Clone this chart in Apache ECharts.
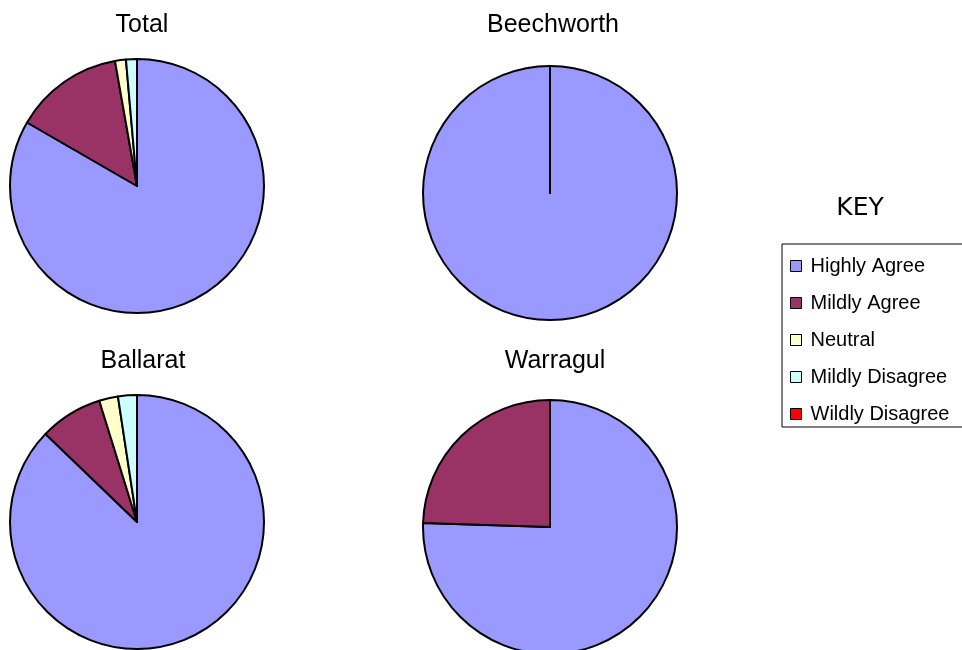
<!DOCTYPE html>
<html>
<head>
<meta charset="utf-8">
<script src="https://cdn.jsdelivr.net/npm/echarts@6/dist/echarts.min.js"></script>
<style>
  html, body { margin: 0; padding: 0; background: #fff; }
  #main { width: 962px; height: 650px; }
</style>
</head>
<body>
<div id="main"></div>
<script>
// categories of the answers
const categories = ['Highly Agree', 'Mildly Agree', 'Neutral', 'Mildly Disagree', 'Wildly Disagree'];
const colors = ['#9999FF', '#993366', '#FFFFCC', '#CCFFFF', '#FF0000'];

// one list per location (share of answers)
const totalValues = [60, 10, 1, 1, 0];
const beechworthValues = [100, 0, 0, 0, 0];
const ballaratValues = [87.2, 8.0, 2.4, 2.4, 0];
const warragulValues = [75.5, 24.5, 0, 0, 0];

const chart = echarts.init(document.getElementById('main'), null, { renderer: 'canvas' });

// build one pie series
function makePie(name, values, center) {
  return {
    name: name,
    type: 'pie',
    center: center,
    radius: 127,
    startAngle: 90,
    clockwise: true,
    silent: true,
    animation: false,
    label: { show: false },
    labelLine: { show: false },
    itemStyle: { borderColor: '#000', borderWidth: 2 },
    data: categories.map((c, i) => ({ name: c, value: values[i] }))
  };
}

const titleFont = { fontFamily: 'Liberation Sans', fontSize: 25, fontWeight: 'normal', color: '#000' };

const option = {
  backgroundColor: '#fff',
  color: colors,
  title: [
    { text: 'Total', left: 142, top: 13, textAlign: 'center', padding: 0, textStyle: titleFont },
    { text: 'Beechworth', left: 553, top: 13, textAlign: 'center', padding: 0, textStyle: titleFont },
    { text: 'Ballarat', left: 143, top: 349, textAlign: 'center', padding: 0, textStyle: titleFont },
    { text: 'Warragul', left: 555, top: 349, textAlign: 'center', padding: 0, textStyle: titleFont },
    {
      text: 'KEY', left: 860, top: 196, textAlign: 'center', padding: 0,
      textStyle: { fontFamily: 'DejaVu Sans', fontSize: 25, fontWeight: 'normal', color: '#000' }
    }
  ],
  legend: {
    orient: 'vertical',
    left: 782,
    top: 244,
    padding: [12, 14, 3, 8],
    itemWidth: 11,
    itemHeight: 11,
    itemGap: 17,
    icon: 'rect',
    borderColor: '#000',
    borderWidth: 1,
    backgroundColor: '#fff',
    selectedMode: false,
    itemStyle: { borderColor: '#000', borderWidth: 1 },
    textStyle: {
      fontFamily: 'Liberation Sans',
      fontSize: 20,
      color: '#000',
      padding: [0, 0, 0, 4]
    },
    data: categories
  },
  series: [
    makePie('Total', totalValues, [137, 186]),
    makePie('Beechworth', beechworthValues, [550, 193]),
    makePie('Ballarat', ballaratValues, [137, 522]),
    makePie('Warragul', warragulValues, [550, 527])
  ]
};

chart.setOption(option);
</script>
</body>
</html>
